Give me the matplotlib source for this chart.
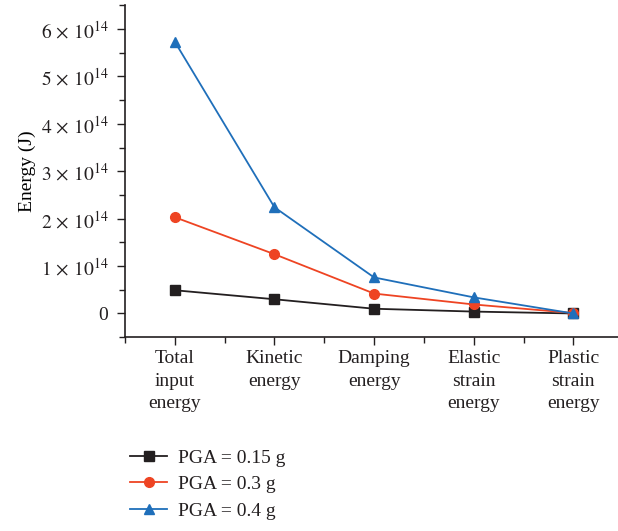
import matplotlib
matplotlib.use("Agg")
import matplotlib.pyplot as plt
from matplotlib.ticker import MultipleLocator, FuncFormatter

plt.rcParams['font.family'] = ['Liberation Serif', 'DejaVu Serif']
plt.rcParams['mathtext.fontset'] = 'stix'
plt.rcParams['text.color'] = '#231f20'
plt.rcParams['xtick.color'] = '#231f20'
plt.rcParams['ytick.color'] = '#231f20'

categories = ["Total\ninput\nenergy", "Kinetic\nenergy", "Damping\nenergy",
              "Elastic\nstrain\nenergy", "Plastic\nstrain\nenergy"]
pga_015 = [0.49e14, 0.30e14, 0.10e14, 0.04e14, 0.0]
pga_03 = [2.03e14, 1.25e14, 0.42e14, 0.19e14, 0.01e14]
pga_04 = [5.73e14, 2.24e14, 0.76e14, 0.34e14, 0.0]

fig = plt.figure(figsize=(6.18, 5.31), dpi=100)
ax = fig.add_axes([0.2023, 0.365, 0.798, 0.625])

x = range(len(categories))
ax.plot(x, pga_015, color='#231f20', marker='s', markersize=7, lw=1.3, label='PGA = 0.15 g')
ax.plot(x, pga_03, color='#ee4423', marker='o', markersize=7, lw=1.3, label='PGA = 0.3 g')
ax.plot(x, pga_04, color='#1f6fba', marker='^', markersize=7, lw=1.3, label='PGA = 0.4 g')

ax.set_xlim(-0.5, 4.45)
ax.set_ylim(-0.5e14, 6.5e14)
ax.set_xticks(list(x))
ax.set_xticklabels(categories, fontsize=14, linespacing=1.45)
ax.xaxis.set_minor_locator(MultipleLocator(0.5))
ax.yaxis.set_major_locator(MultipleLocator(1e14))
ax.yaxis.set_minor_locator(MultipleLocator(0.5e14))


def fmt(v, pos):
    n = int(round(v / 1e14))
    if n == 0:
        return "0"
    return r"$%d\,\times\,10^{14}$" % n


ax.yaxis.set_major_formatter(FuncFormatter(fmt))
ax.tick_params(axis='y', labelsize=14, pad=6)
ax.tick_params(axis='x', pad=3)
ax.tick_params(which='major', length=6, width=1, color='#231f20')
ax.tick_params(which='minor', length=4, width=1, color='#231f20')
ax.set_ylabel("Energy (J)", fontsize=14, labelpad=3)

for s in ['top', 'right']:
    ax.spines[s].set_visible(False)
for s in ['left', 'bottom']:
    ax.spines[s].set_linewidth(1.2)
    ax.spines[s].set_color('#231f20')

ax.legend(loc='upper left', bbox_to_anchor=(-0.025, -0.285), frameon=False,
          fontsize=14, handlelength=1.9, handletextpad=0.55, labelspacing=0.45)

plt.savefig("out.png", dpi=100)
